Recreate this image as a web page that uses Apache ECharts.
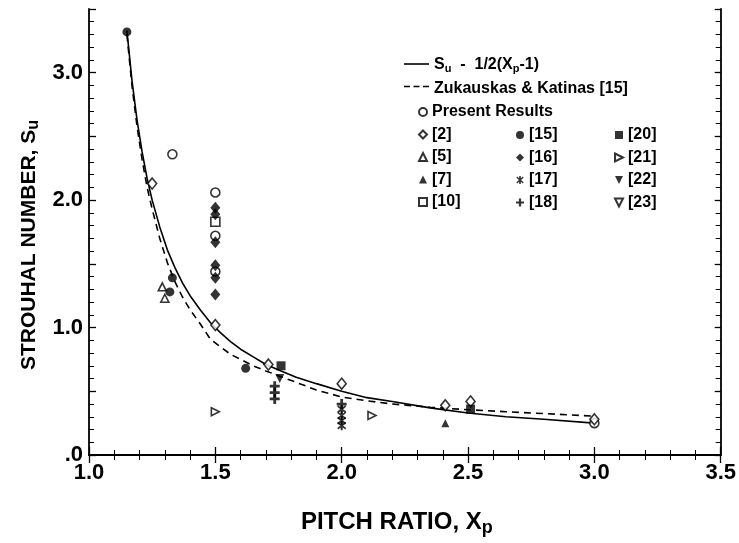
<!DOCTYPE html>
<html><head><meta charset="utf-8">
<script src="https://cdn.jsdelivr.net/npm/echarts@6/dist/echarts.min.js"></script>
<style>html,body{margin:0;padding:0;background:#fff}#c{width:739px;height:543px}</style>
</head><body><div id="c"></div>
<script>
// ---- data ----
const xTicks = [1.0, 1.5, 2.0, 2.5, 3.0, 3.5];
const yTickLabels = {0: '.0', 1: '1.0', 2: '2.0', 3: '3.0'};

const curveX = [1.15,1.17,1.19,1.21,1.23,1.25,1.28,1.31,1.34,1.37,1.40,1.44,1.48,1.52,1.56,1.60,1.65,1.70,1.76,1.82,1.90,2.0,2.1,2.2,2.35,2.5,2.65,2.8,3.0];
const theoryY = [3.33,2.94,2.63,2.38,2.17,2.00,1.79,1.61,1.47,1.35,1.25,1.14,1.04,0.96,0.89,0.83,0.77,0.71,0.66,0.61,0.56,0.50,0.45,0.42,0.37,0.33,0.30,0.28,0.25];
const zkY     = [3.30,2.90,2.58,2.32,2.10,1.93,1.70,1.51,1.36,1.24,1.14,1.03,0.91,0.85,0.79,0.75,0.70,0.66,0.615,0.57,0.51,0.455,0.425,0.40,0.375,0.355,0.34,0.325,0.305];

const present = [[1.33,2.36],[1.5,2.06],[1.5,1.72],[1.5,1.44],[3.0,0.25]];
const ref2  = [[1.25,2.13],[1.5,1.02],[1.71,0.71],[2.0,0.56],[2.41,0.39],[2.51,0.42],[3.0,0.28]];
const ref5  = [[1.29,1.32],[1.30,1.23]];
const ref7  = [[2.41,0.25]];
const ref10 = [[1.5,1.83]];
const ref15 = [[1.15,3.32],[1.33,1.39],[1.32,1.28],[1.62,0.68]];
const ref16 = [[1.5,1.94],[1.5,1.89],[1.5,1.67],[1.5,1.49],[1.5,1.39],[1.5,1.26]];
const ref17 = [[2.0,0.36],[2.0,0.31],[2.0,0.27],[2.0,0.23]];
const ref18 = [[1.735,0.54],[1.735,0.49],[1.735,0.44],[2.0,0.40]];
const ref20 = [[1.76,0.70],[2.51,0.36]];
const ref21 = [[1.5,0.34],[2.12,0.31]];
const ref22 = [[1.755,0.60]];
const ref23 = [];

// ---- chart ----
const FONT = "'Liberation Sans', Arial, Helvetica, sans-serif";
const zip = (a, b) => a.map((v, i) => [v, b[i]]);
const OPEN = {color: '#fff', borderColor: '#000', borderWidth: 1.6};
const FILL = {color: '#000', borderColor: '#000', borderWidth: 0};
const SYM = {
  triRight: 'path://M0,0 L10,5 L0,10 Z',
  triDown: 'path://M0,0 L10,0 L5,10 Z',
  plus: 'path://M3.6,0 H6.4 V3.6 H10 V6.4 H6.4 V10 H3.6 V6.4 H0 V3.6 H3.6 Z',
  star: 'path://M4,0 H6 V10 H4 Z M0.5,2.3 L1.5,0.7 L9.5,7.7 L8.5,9.3 Z M8.5,0.7 L9.5,2.3 L1.5,9.3 L0.5,7.7 Z'
};
function sc(name, data, symbol, size, style) {
  return {name, type: 'scatter', data, symbol, symbolSize: size, itemStyle: style, z: 5};
}
const series = [
  {name: 'theory', type: 'line', data: zip(curveX, theoryY), smooth: false,
   showSymbol: false, symbol: 'none', lineStyle: {color: '#000', width: 1.6}, itemStyle: {color: '#000'}, z: 3},
  {name: 'zk', type: 'line', data: zip(curveX, zkY), smooth: false,
   showSymbol: false, symbol: 'none', lineStyle: {color: '#000', width: 1.6, type: [7, 5]}, itemStyle: {color: '#000'}, z: 3},
  sc('Present Results', present, 'circle', 9, OPEN),
  sc('[2]', ref2, 'diamond', [9, 11], OPEN),
  sc('[5]', ref5, 'triangle', 8, OPEN),
  sc('[7]', ref7, 'triangle', 8, FILL),
  sc('[10]', ref10, 'rect', 9, OPEN),
  sc('[15]', ref15, 'circle', 9, FILL),
  sc('[16]', ref16, 'diamond', [10, 12], FILL),
  sc('[17]', ref17, SYM.star, 9, FILL),
  sc('[18]', ref18, SYM.plus, 10, FILL),
  sc('[20]', ref20, 'rect', 9, FILL),
  sc('[21]', ref21, SYM.triRight, 8, OPEN),
  sc('[22]', ref22, SYM.triDown, 9, FILL),
  sc('[23]', ref23, SYM.triDown, 8, OPEN)
];

const legText = {color: '#000', fontFamily: FONT, fontWeight: 'bold', fontSize: 16, lineHeight: 16,
  rich: {sub: {fontFamily: FONT, fontWeight: 'bold', fontSize: 11, color: '#000', padding: [7, 0, 0, 0]}}};
function legend(data, left, top, w, h) {
  return {data, left, top, orient: 'vertical', itemWidth: w, itemHeight: h, itemGap: 6.5, padding: 0,
    selectedMode: false, textStyle: legText,
    formatter: n => n === 'theory' ? 'S{sub|u}  -  1/2(X{sub|p}-1)' : (n === 'zk' ? 'Zukauskas & Katinas [15]' : n)};
}

const axisLine = {show: true, lineStyle: {color: '#000', width: 1.8}};
const tick = {show: true, inside: true, length: 8, lineStyle: {color: '#000', width: 1.3}};
const minor = {show: true, splitNumber: 5, length: 5, lineStyle: {color: '#000', width: 1}};
const lbl = {color: '#000', fontFamily: FONT, fontWeight: 'bold', fontSize: 22};

const option = {
  animation: false,
  backgroundColor: '#fff',
  grid: {left: 89, right: 18, top: 9, bottom: 88},
  legend: [
    legend([{name: 'theory', icon: 'none'}, {name: 'zk', icon: 'none'}], 404, 57, 25, 10),
    legend(['Present Results', '[2]', '[5]', '[7]', '[10]'], 418, 104, 8, 8),
    legend(['[15]', '[16]', '[17]', '[18]'], 516, 127, 8, 8),
    legend(['[20]', '[21]', '[22]', '[23]'], 614, 127, 8, 8)
  ],
  // legend key lines for the two curves (legend decoration only)
  graphic: [
    {type: 'line', shape: {x1: 404, y1: 64, x2: 429, y2: 64}, style: {stroke: '#000', lineWidth: 1.6}},
    {type: 'line', shape: {x1: 404, y1: 86.5, x2: 429, y2: 86.5}, style: {stroke: '#000', lineWidth: 1.6, lineDash: [6, 3.5]}}
  ],
  xAxis: [
    {type: 'value', min: xTicks[0], max: xTicks[xTicks.length - 1], interval: 0.5,
     axisLine, axisTick: tick, minorTick: minor, splitLine: {show: false}, minorSplitLine: {show: false},
     axisLabel: Object.assign({margin: 7, formatter: v => v.toFixed(1)}, lbl),
     name: 'PITCH RATIO, X{sub|p}', nameLocation: 'middle', nameGap: 52,
     nameTextStyle: {color: '#000', fontFamily: FONT, fontWeight: 'bold', fontSize: 24, padding: [0, 16, 0, 0],
       rich: {sub: {fontFamily: FONT, fontWeight: 'bold', fontSize: 18, color: '#000', padding: [12, 0, 0, 0]}}}},
    {type: 'value', position: 'top', min: 1, max: 3.5, interval: 0.5,
     axisLine, axisTick: tick, minorTick: minor, splitLine: {show: false}, axisLabel: {show: false}}
  ],
  yAxis: [
    {type: 'value', min: 0, max: 3.5, interval: 0.5,
     axisLine, axisTick: Object.assign({}, tick, {length: 7}), minorTick: minor, splitLine: {show: false},
     axisLabel: Object.assign({margin: 6, formatter: v => (yTickLabels[v] !== undefined ? yTickLabels[v] : '')}, lbl),
     name: 'STROUHAL NUMBER, S{sub|u}', nameLocation: 'middle', nameGap: 44, nameRotate: 90,
     nameTextStyle: {color: '#000', fontFamily: FONT, fontWeight: 'bold', fontSize: 21, padding: [0, 26, 0, 0],
       rich: {sub: {fontFamily: FONT, fontWeight: 'bold', fontSize: 16, color: '#000', padding: [9, 0, 0, 0]}}}},
    {type: 'value', position: 'right', min: 0, max: 3.5, interval: 0.5,
     axisLine, axisTick: Object.assign({}, tick, {length: 6}), minorTick: minor, splitLine: {show: false}, axisLabel: {show: false}}
  ],
  series
};
const chart = echarts.init(document.getElementById('c'), null, {renderer: 'canvas'});
chart.setOption(option);
</script></body></html>
